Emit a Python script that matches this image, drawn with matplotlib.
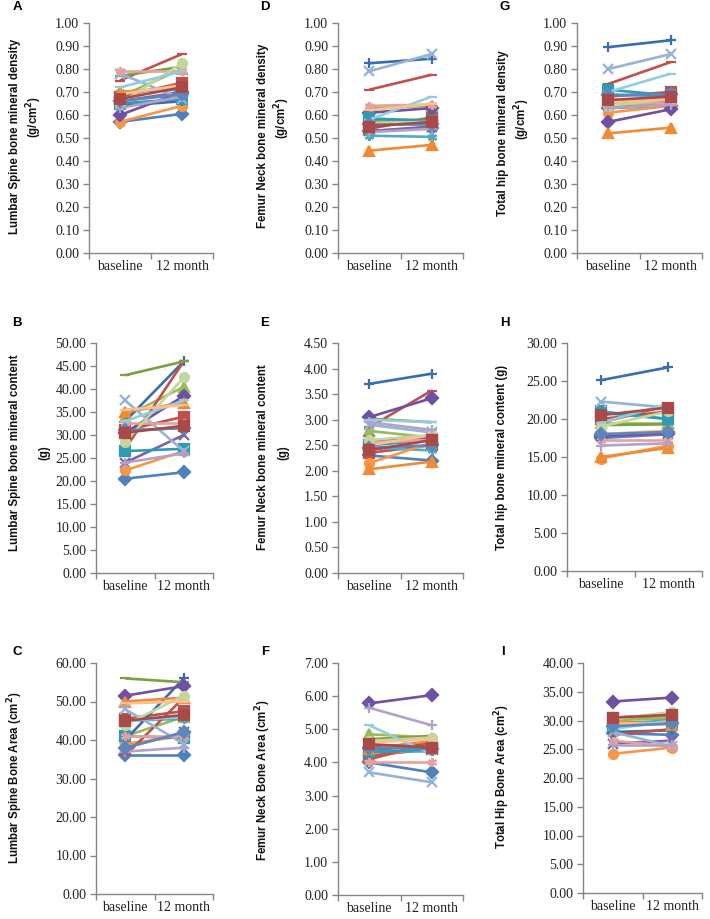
import matplotlib
matplotlib.use("Agg")
import matplotlib.pyplot as plt
from matplotlib.ticker import FixedLocator, FuncFormatter

categories = ["baseline", "12 month"]

series_colors = ["#4F81BD", "#C0504D", "#9BBB59", "#8064A2", "#4BACC6", "#F79646",
                 "#3A6CB0", "#C0504D", "#7E9F3D", "#7050A0", "#2E9BB5", "#F08A35",
                 "#95B3D7", "#E6A0A0", "#C3D69B", "#B3A2C7", "#93CDDD", "#FAC090",
                 "#5E86BE", "#A94A48"]
series_markers = ["D", "s", "^", "x", (6, 2, 0), "o", "+", "_", "_", "D", "s", "^",
                  "x", (6, 2, 0), "o", "+", "_", "_", "D", "s"]

# Panel A: Lumbar spine BMD (g/cm2)
ls_bmd_base = [0.57, 0.68, 0.68, 0.66, 0.70, 0.57, 0.64, 0.75, 0.77, 0.60,
               0.65, 0.70, 0.78, 0.79, 0.65, 0.63, 0.72, 0.69, 0.66, 0.67]
ls_bmd_12m = [0.605, 0.74, 0.80, 0.70, 0.71, 0.64, 0.66, 0.865, 0.81, 0.70,
              0.67, 0.72, 0.67, 0.79, 0.825, 0.68, 0.79, 0.73, 0.69, 0.72]
# Panel B: Lumbar spine BMC (g)
ls_bmc_base = [20.5, 31.0, 34.0, 24.0, 31.0, 22.3, 33.0, 27.0, 43.0, 30.5,
               26.5, 35.0, 37.5, 32.5, 28.5, 24.0, 33.0, 35.5, 31.0, 30.5]
ls_bmc_12m = [21.9, 34.0, 40.5, 30.0, 31.5, 26.5, 46.0, 46.0, 46.0, 38.5,
              27.0, 37.0, 26.5, 32.5, 42.5, 26.0, 37.5, 36.5, 31.5, 32.0]
# Panel C: Lumbar spine bone area (cm2)
ls_area_base = [36.2, 45.5, 41.0, 38.0, 45.0, 39.0, 40.0, 36.0, 56.0, 51.5,
                41.0, 50.0, 48.0, 41.0, 44.0, 37.0, 45.0, 49.5, 38.0, 45.0]
ls_area_12m = [36.2, 47.5, 46.0, 42.0, 45.5, 41.0, 56.0, 51.0, 55.0, 54.0,
               40.5, 51.0, 39.0, 41.0, 51.5, 38.0, 46.0, 50.0, 42.0, 46.5]
# Panel D: Femur neck BMD (g/cm2)
fn_bmd_base = [0.53, 0.54, 0.63, 0.53, 0.51, 0.555, 0.825, 0.71, 0.575, 0.61,
               0.585, 0.445, 0.79, 0.64, 0.565, 0.525, 0.58, 0.62, 0.56, 0.55]
fn_bmd_12m = [0.545, 0.59, 0.64, 0.55, 0.505, 0.57, 0.845, 0.775, 0.58, 0.63,
              0.575, 0.47, 0.865, 0.645, 0.57, 0.54, 0.68, 0.65, 0.56, 0.57]
# Panel E: Femur neck BMC (g)
fn_bmc_base = [2.30, 2.35, 2.78, 2.60, 2.45, 2.15, 3.70, 2.85, 3.02, 3.05,
               2.50, 2.03, 2.90, 2.55, 2.60, 2.95, 3.00, 2.50, 2.45, 2.40]
fn_bmc_12m = [2.20, 2.50, 2.65, 2.65, 2.40, 2.55, 3.90, 3.57, 2.95, 3.42,
              2.60, 2.18, 2.75, 2.60, 2.70, 2.80, 2.95, 2.70, 2.50, 2.60]
# Panel F: Femur neck bone area (cm2)
fn_area_base = [4.00, 4.20, 4.85, 4.35, 4.35, 4.10, 4.45, 4.10, 4.70, 5.78,
                4.30, 4.40, 3.70, 4.00, 4.65, 5.65, 5.12, 4.60, 4.45, 4.55]
fn_area_12m = [3.70, 4.40, 4.75, 4.55, 4.35, 4.55, 4.60, 4.60, 4.80, 6.03,
               4.40, 4.65, 3.40, 4.00, 4.75, 5.12, 4.25, 4.70, 4.40, 4.45]
# Panel G: Total hip BMD (g/cm2)
th_bmd_base = [0.63, 0.68, 0.66, 0.65, 0.69, 0.61, 0.895, 0.735, 0.64, 0.57,
               0.71, 0.52, 0.80, 0.645, 0.64, 0.63, 0.70, 0.655, 0.685, 0.665]
th_bmd_12m = [0.64, 0.70, 0.67, 0.66, 0.68, 0.64, 0.925, 0.83, 0.65, 0.625,
              0.685, 0.545, 0.865, 0.655, 0.67, 0.645, 0.78, 0.67, 0.69, 0.68]
# Panel H: Total hip BMC (g)
th_bmc_base = [17.5, 20.0, 19.5, 17.8, 20.8, 14.8, 25.1, 19.5, 19.2, 17.8,
               21.0, 15.0, 22.3, 17.3, 19.0, 16.5, 19.5, 18.0, 18.0, 20.5]
th_bmc_12m = [18.0, 21.0, 19.5, 18.0, 20.0, 16.5, 26.8, 21.8, 19.3, 18.2,
              20.0, 16.2, 21.5, 17.3, 21.0, 16.8, 22.0, 18.5, 18.3, 21.5]
# Panel I: Total hip bone area (cm2)
th_area_base = [27.8, 30.5, 30.0, 26.0, 29.5, 24.2, 28.0, 27.5, 30.5, 33.3,
                29.0, 29.8, 28.0, 26.5, 30.2, 25.8, 28.5, 29.5, 29.0, 30.5]
th_area_12m = [27.5, 30.5, 30.5, 26.5, 30.0, 25.3, 28.3, 28.5, 31.0, 34.0,
               29.5, 29.3, 25.5, 25.5, 31.5, 25.8, 30.0, 29.5, 29.5, 31.0]

CM2 = "(cm$^\\mathbf{2}$)"
GCM2 = "(g/cm$^\\mathbf{2}$)"
# (letter, [(label line, x px, y center px)], base, 12m, ymax, step, axes box px, letter pos px)
panels = [
    ("A", [("Lumbar Spine bone mineral density", 15, 136), (GCM2, 34, 117)],
     ls_bmd_base, ls_bmd_12m, 1.0, 0.1, (89, 213, 23, 253), (17, 7)),
    ("B", [("Lumbar Spine bone mineral content", 15, 453), ("(g)", 44, 453)],
     ls_bmc_base, ls_bmc_12m, 50.0, 5.0, (96, 213, 343, 573), (17, 323)),
    ("C", [("Lumbar Spine Bone Area " + CM2, 15, 778)],
     ls_area_base, ls_area_12m, 60.0, 10.0, (96, 213, 663, 894), (17, 652)),
    ("D", [("Femur Neck bone mineral density", 263, 136), (GCM2, 282, 118)],
     fn_bmd_base, fn_bmd_12m, 1.0, 0.1, (338, 463, 23, 253), (265, 7)),
    ("E", [("Femur Neck bone mineral content", 263, 457), ("(g)", 283, 453)],
     fn_bmc_base, fn_bmc_12m, 4.5, 0.5, (338, 463, 343, 573), (265, 323)),
    ("F", [("Femur Neck Bone Area " + CM2, 263, 780)],
     fn_area_base, fn_area_12m, 7.0, 1.0, (338, 463, 663, 895), (265, 652)),
    ("G", [("Total hip bone mineral density", 503, 133), (GCM2, 522, 119)],
     th_bmd_base, th_bmd_12m, 1.0, 0.1, (577, 702, 23, 253), (505, 7)),
    ("H", [("Total hip bone mineral content (g)", 502, 457)],
     th_bmc_base, th_bmc_12m, 30.0, 5.0, (567, 702, 343, 571), (505, 323)),
    ("I", [("Total Hip Bone Area " + CM2, 502, 777)],
     th_area_base, th_area_12m, 40.0, 5.0, (583, 702, 663, 893), (503, 652)),
]

W, H = 710, 919
fig = plt.figure(figsize=(W / 100, H / 100), dpi=100)
fig.patch.set_facecolor("white")
gray = "#868686"
tick_font = "Liberation Serif"

for letter, label_lines, base, m12, ymax, step, (l, r, t, b), (lx, ly) in panels:
    ax = fig.add_axes([l / W, 1 - b / H, (r - l) / W, (b - t) / H])
    for i in range(len(base)):
        c = series_colors[i % len(series_colors)]
        mk = series_markers[i % len(series_markers)]
        ax.plot([0, 1], [base[i], m12[i]], color=c, lw=1.9, marker=mk,
                markersize=6.5, markeredgewidth=1.6, markerfacecolor=c,
                markeredgecolor=c, solid_capstyle="butt", zorder=2)
    ax.set_xlim(-0.5, 1.5)
    ax.set_ylim(0, ymax)
    nt = int(round(ymax / step))
    ax.set_yticks([k * step for k in range(nt + 1)])
    ax.yaxis.set_major_formatter(FuncFormatter(lambda v, p: f"{v:.2f}"))
    ax.xaxis.set_major_locator(FixedLocator([-0.5, 0.5, 1.5]))
    ax.xaxis.set_major_formatter(FuncFormatter(lambda v, p: ""))
    ax.xaxis.set_minor_locator(FixedLocator([0, 1]))
    ax.xaxis.set_minor_formatter(FuncFormatter(lambda v, p: categories[int(round(v))]))
    ax.tick_params(axis="x", which="major", direction="out", length=4, color=gray, width=1)
    ax.tick_params(axis="x", which="minor", length=0, pad=5, labelsize=10,
                   labelfontfamily=tick_font, labelcolor="#222222")
    ax.tick_params(axis="y", direction="out", length=4, color=gray, width=1, pad=3,
                   labelsize=10, labelfontfamily=tick_font, labelcolor="#222222")
    for s in ["top", "right"]:
        ax.spines[s].set_visible(False)
    for s in ["left", "bottom"]:
        ax.spines[s].set_color(gray)
        ax.spines[s].set_linewidth(1)
    for txt, tx, ty in label_lines:
        fig.text(tx / W, 1 - ty / H, txt, rotation=90, fontsize=8.3, fontweight="bold",
                 fontfamily="Liberation Sans", ha="center", va="center", color="#111111")
    fig.text(lx / W, 1 - ly / H, letter, fontsize=9.5, fontweight="bold",
             fontfamily="Liberation Sans", ha="center", va="center")

fig.savefig("out.png", dpi=100, facecolor="white")
